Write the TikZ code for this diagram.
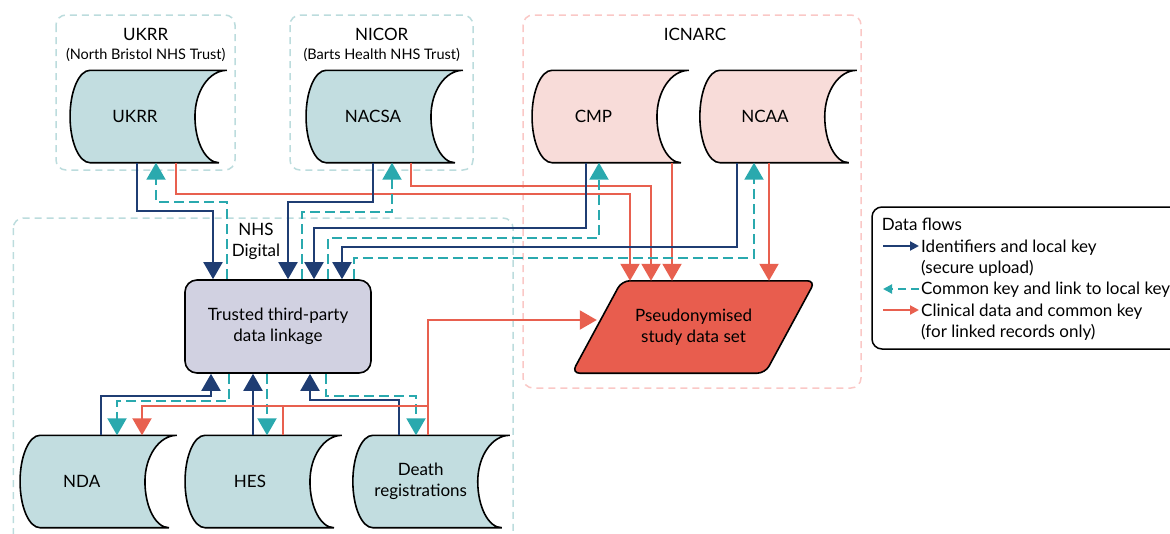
\documentclass[tikz,border=0pt]{standalone}
\usepackage{fontspec}
\setmainfont{Lato}
\usetikzlibrary{arrows.meta,backgrounds}
\definecolor{navy}{HTML}{1F3D73}
\definecolor{cyanf}{HTML}{2AA9AE}
\definecolor{redf}{HTML}{E8604F}
\definecolor{stteal}{HTML}{C2DDE0}
\definecolor{stpink}{HTML}{F8DCD9}
\definecolor{lav}{HTML}{D1D1E1}
\definecolor{pseudofill}{HTML}{E85D4E}
\definecolor{grpteal}{HTML}{BCDCDD}
\definecolor{grppink}{HTML}{FAC8C6}
\newcommand\fsmain{\fontsize{17}{21}\selectfont}
\newcommand\fssub{\fontsize{14.5}{17}\selectfont}
\begin{document}
\begin{tikzpicture}[x=1pt,y=-1pt,font=\fsmain,line join=miter,
  store/.style={minimum width=156.5pt,minimum height=92pt,inner sep=0pt},
  flow/.style={line width=2pt},
  idf/.style={flow,draw=navy,-{Triangle[width=19pt,length=17pt]}},
  ckf/.style={flow,draw=cyanf,dash pattern=on 10pt off 5pt,-{Triangle[width=19pt,length=17pt]}},
  cdf/.style={flow,draw=redf,-{Triangle[width=19pt,length=17pt]}},
  cdline/.style={flow,draw=redf},
  smalltip/.style={-{Triangle[width=9pt,length=9pt]}},
  grpT/.style={draw=grpteal,line width=1.5pt,dash pattern=on 7pt off 5pt,rounded corners=10pt},
  grpP/.style={draw=grppink,line width=1.5pt,dash pattern=on 7pt off 5pt,rounded corners=10pt},
  legtext/.style={anchor=base west,inner sep=0pt}
]
\useasboundingbox (0,0) rectangle (1170,533);

% storage nodes
\node[store,label={[xshift=-13.5pt]center:UKRR}] (ukrr) at (148.5,116.5) {};
\node[store,label={[xshift=-11.5pt]center:NACSA}] (nacsa) at (384.5,116.5) {};
\node[store,label={[xshift=-17pt]center:CMP}] (cmp) at (610.5,116.5) {};
\node[store,label={[xshift=-13.3pt]center:NCAA}] (ncaa) at (778.3,116.5) {};
\node[store,label={[xshift=-16.8pt]center:NDA}] (nda) at (98.5,481.5) {};
\node[store,label={[xshift=-13.5pt]center:HES}] (hes) at (263.5,481.5) {};
\node[store,label={[xshift=-10.6pt,align=center]center:{Death\\registrations}}] (death) at (431.3,481.5) {};

% process nodes
\node[draw,fill=lav,line width=1.6pt,rounded corners=12pt,minimum width=186pt,minimum height=93pt,align=center] (trusted) at (278,326.5) {Trusted third-party\\data linkage};
\node[minimum width=243pt,minimum height=92pt,align=center,inner sep=0pt] (pseudo) at (693.5,327) {Pseudonymised\\study data set};
\coordinate (pseudo-in) at ([xshift=25pt]pseudo.west);

\begin{scope}[on background layer]
  \draw[grpT] (56,15) rectangle (235,170);
  \draw[grpT] (290,15) rectangle (473,170);
  \draw[grpP] (523,15) rectangle (861,388);
  \draw[grpT] (13.3,218) rectangle (513,560);
  \foreach \n/\c in {ukrr/stteal,nacsa/stteal,cmp/stpink,ncaa/stpink,nda/stteal,hes/stteal,death/stteal}{
    \filldraw[fill=\c,draw=black,line width=1.6pt]
      ([xshift=20pt]\n.north west) -- (\n.north east)
      .. controls ([xshift=-17.7pt]\n.north east) and ([xshift=-32pt,yshift=25.4pt]\n.east) .. ([xshift=-32pt]\n.east)
      .. controls ([xshift=-32pt,yshift=-25.4pt]\n.east) and ([xshift=-21.3pt]\n.south east) .. ([xshift=-8pt]\n.south east)
      -- ([xshift=20pt]\n.south west)
      .. controls ([xshift=8.95pt]\n.south west) and ([yshift=-25.4pt]\n.west) .. (\n.west)
      .. controls ([yshift=25.4pt]\n.west) and ([xshift=8.95pt]\n.north west) .. ([xshift=20pt]\n.north west)
      -- cycle;
  }
  \filldraw[fill=pseudofill,draw=black,line width=1.6pt,rounded corners=8pt]
    ([xshift=50pt]pseudo.north west) -- (pseudo.north east) -- ([xshift=-50pt]pseudo.south east)
    -- (pseudo.south west) -- cycle;
\end{scope}

% group titles
\node[anchor=base] (t-ukrr) at (145.7,40.7) {UKRR};
\node[anchor=base,font=\fssub] (s-ukrr) at (145.7,59.3) {(North Bristol NHS Trust)};
\node[anchor=base] (t-nicor) at (381.7,40.7) {NICOR};
\node[anchor=base,font=\fssub] (s-nicor) at (381.7,59.3) {(Barts Health NHS Trust)};
\node[anchor=base] (t-icnarc) at (695,40.7) {ICNARC};
\node[fill=white,inner xsep=4pt,inner ysep=2pt,align=center] (t-nhs) at (256,241) {NHS\\Digital};

% top connectors
\draw[idf] (137,0 |- ukrr.south) |- (213,211) -- (213,0 |- trusted.north);
\draw[ckf] (227,0 |- trusted.north) |- (156,202) -- (156,0 |- ukrr.south);
\draw[cdf] (176,0 |- ukrr.south) |- (630,194) -- (630,0 |- pseudo.north);
\draw[idf] (373,0 |- nacsa.south) |- (288,202) -- (288,0 |- trusted.north);
\draw[ckf] (302,0 |- trusted.north) |- (392,212) -- (392,0 |- nacsa.south);
\draw[cdf] (411,0 |- nacsa.south) |- (651,186) -- (651,0 |- pseudo.north);
\draw[idf] (586,0 |- cmp.south) |- (314,228) -- (314,0 |- trusted.north);
\draw[ckf] (328,0 |- trusted.north) |- (599,238) -- (599,0 |- cmp.south);
\draw[cdf] (672,0 |- cmp.south) -- (672,0 |- pseudo.north);
\draw[idf] (737,0 |- ncaa.south) |- (342,247) -- (342,0 |- trusted.north);
\draw[ckf] (354,0 |- trusted.north) |- (754,258) -- (754,0 |- ncaa.south);
\draw[cdf] (769,0 |- ncaa.south) -- (769,0 |- pseudo.north);

% bottom connectors
\draw[idf] (101,0 |- nda.north) |- (211,396) -- (211,0 |- trusted.south);
\draw[ckf] (229,0 |- trusted.south) |- (117,401) -- (117,0 |- nda.north);
\draw[idf] (253,0 |- hes.north) -- (253,0 |- trusted.south);
\draw[ckf] (267,0 |- trusted.south) -- (267,0 |- hes.north);
\draw[idf] (399,0 |- death.north) |- (310,400) -- (310,0 |- trusted.south);
\draw[ckf] (326,0 |- trusted.south) |- (416,396) -- (416,0 |- death.north);
\draw[cdline] (283,0 |- hes.north) -- (283,406);
\draw[cdf] (428,406) -| (142,0 |- nda.north);
\draw[cdf] (428,0 |- death.north) |- (pseudo-in |- 0,320);

% legend
\node[draw,line width=1.5pt,rounded corners=10pt,minimum width=330pt,minimum height=142pt] (legend) at (1037,278) {};
\node[legtext] (lg-0) at (881.7,230.7) {Data flows};
\node[legtext] (lg-1) at (921,252) {Identifiers and local key};
\node[legtext] (lg-2) at (921,273.3) {(secure upload)};
\node[legtext] (lg-3) at (921,294.6) {Common key and link to local key};
\node[legtext] (lg-4) at (921,316) {Clinical data and common key};
\node[legtext] (lg-5) at (921,337.3) {(for linked records only)};
\draw[flow,draw=navy,smalltip] (883,246) -- (919,246);
\draw[flow,draw=cyanf,dash pattern=on 8pt off 5pt,smalltip] (919,289) -- (883,289);
\draw[flow,draw=redf,smalltip] (883,310) -- (919,310);
\end{tikzpicture}
\end{document}
